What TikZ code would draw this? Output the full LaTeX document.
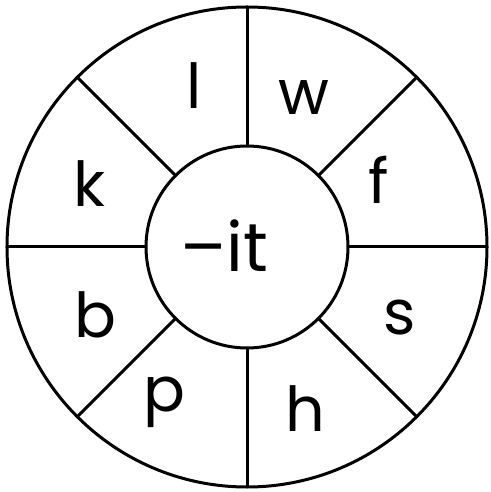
\documentclass[tikz,border=0pt]{standalone}
\usepackage{fontspec}
\setmainfont{Poppins}
\begin{document}
\begin{tikzpicture}[x=1pt,y=1pt,line width=3pt,
  lettr/.style={font=\fontsize{62}{62}\selectfont,inner sep=0pt}]
\useasboundingbox (-247,-245) rectangle (243,247);
\coordinate (c) at (0,0);
\foreach \a in {0,45,...,315}{
  \draw (c) ++(\a:101) coordinate (i\a) -- (\a:240) coordinate (o\a);
}
\draw[fill=white] (c) circle (101);
\draw (c) circle (240);
\node[lettr] (l) at (108:170) {l};
\node[lettr] (w) at (69:160) {w};
\node[lettr] (f) at (27:148) {f};
\node[lettr] (s) at (-25:168) {s};
\node[lettr] (h) at (-70:172) {h};
\node[lettr] (p) at (-118:176) {p};
\node[lettr] (b) at (-156:166) {b};
\node[lettr] (k) at (158:170) {k};
\node[lettr,font=\fontsize{68}{68}\selectfont] (it) at (-23,1) {–it};
\end{tikzpicture}
\end{document}
